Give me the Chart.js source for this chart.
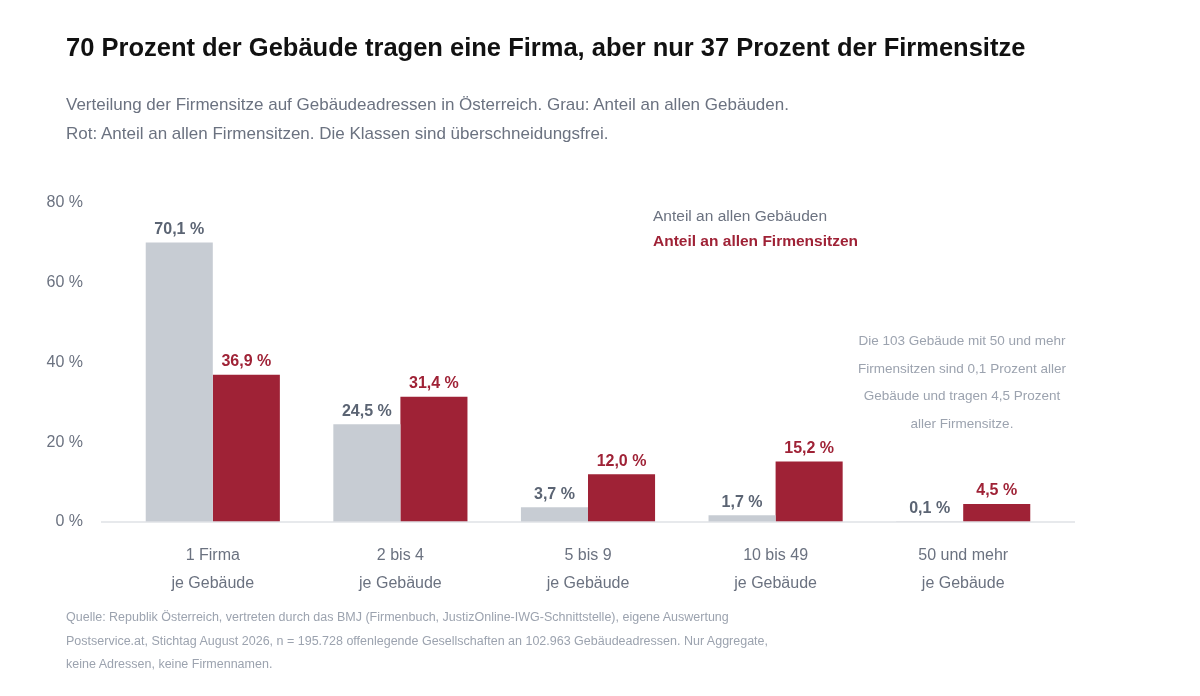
<!DOCTYPE html>
<html><head><meta charset="utf-8">
<script src="https://cdn.jsdelivr.net/npm/chart.js@4"></script>
<style>
body{margin:0;width:1200px;height:696px;overflow:hidden;background:#fff;font-family:"Liberation Sans",Arial,sans-serif;}
#wrap{position:absolute;left:0;top:0;width:1200px;height:696px;}
.t{position:absolute;white-space:nowrap;}
</style></head><body>
<div id="wrap"><canvas id="c" width="1200" height="696"></canvas></div>
<div class="t" style="left:66px;top:33px;font-size:25.5px;font-weight:bold;color:#111;">70 Prozent der Gebäude tragen eine Firma, aber nur 37 Prozent der Firmensitze</div>
<div class="t" style="left:66px;top:90px;font-size:17px;color:#6b7280;line-height:29px;">Verteilung der Firmensitze auf Gebäudeadressen in Österreich. Grau: Anteil an allen Gebäuden.<br>Rot: Anteil an allen Firmensitzen. Die Klassen sind überschneidungsfrei.</div>
<div class="t" style="left:653px;top:207px;font-size:15.5px;color:#6b7280;">Anteil an allen Gebäuden</div>
<div class="t" style="left:653px;top:232px;font-size:15.5px;font-weight:bold;color:#9f2236;">Anteil an allen Firmensitzen</div>
<div class="t" style="left:842px;top:327px;width:240px;text-align:center;font-size:13.5px;color:#9ca3af;line-height:27.5px;">Die 103 Gebäude mit 50 und mehr<br>Firmensitzen sind 0,1 Prozent aller<br>Gebäude und tragen 4,5 Prozent<br>aller Firmensitze.</div>
<div class="t" style="left:66px;top:606px;font-size:12.5px;color:#9ca3af;line-height:23.5px;">Quelle: Republik Österreich, vertreten durch das BMJ (Firmenbuch, JustizOnline-IWG-Schnittstelle), eigene Auswertung<br>Postservice.at, Stichtag August 2026, n = 195.728 offenlegende Gesellschaften an 102.963 Gebäudeadressen. Nur Aggregate,<br>keine Adressen, keine Firmennamen.</div>
<script>
const categories=[["1 Firma","je Gebäude"],["2 bis 4","je Gebäude"],["5 bis 9","je Gebäude"],["10 bis 49","je Gebäude"],["50 und mehr","je Gebäude"]];
const buildingShare=[70.1,24.5,3.7,1.7,0.1];
const firmShare=[36.9,31.4,12.0,15.2,4.5];
const yTicks=[0,20,40,60,80];
const GREY="#c7ccd3",RED="#9f2236",TXT="#6b7280";
const fmt=v=>v.toFixed(1).replace('.',',')+' %';
const labelsPlugin={id:'lbl',afterDatasetsDraw(ch){
  const ctx=ch.ctx;ctx.save();ctx.textAlign='center';ctx.textBaseline='bottom';
  ctx.font='bold 16px "Liberation Sans",Arial,sans-serif';
  ch.data.datasets.forEach((ds,i)=>{ch.getDatasetMeta(i).data.forEach((b,j)=>{
    ctx.fillStyle=i==0?'#5b6473':RED;ctx.fillText(fmt(ds.data[j]),b.x,b.y-5);});});
  const y=ch.scales.y.getPixelForValue(0);
  ctx.strokeStyle='#dfe2e6';ctx.lineWidth=1.5;ctx.beginPath();ctx.moveTo(101,y);ctx.lineTo(1075,y);ctx.stroke();
  ctx.restore();}};
new Chart(document.getElementById('c'),{type:'bar',
data:{labels:categories,datasets:[
 {label:'Anteil an allen Gebäuden',data:buildingShare,backgroundColor:GREY},
 {label:'Anteil an allen Firmensitzen',data:firmShare,backgroundColor:RED}]},
options:{responsive:false,animation:false,
 layout:{padding:{top:203,left:0,right:143,bottom:0}},
 datasets:{bar:{barPercentage:1,categoryPercentage:0.715}},
 plugins:{legend:{display:false},tooltip:{enabled:false}},
 scales:{
  x:{grid:{display:false},border:{display:false},
     ticks:{color:TXT,padding:12,font:{size:16,family:'"Liberation Sans",Arial,sans-serif',lineHeight:1.75}},
     afterFit:s=>{s.height=174;}},
  y:{min:0,max:80,grid:{display:false},border:{display:false},
     afterBuildTicks:s=>{s.ticks=yTicks.map(v=>({value:v}));},
     ticks:{color:TXT,padding:28,callback:v=>v+' %',font:{size:16,family:'"Liberation Sans",Arial,sans-serif'}},
     afterFit:s=>{s.width=119;}}}},
plugins:[labelsPlugin]});
</script></body></html>
